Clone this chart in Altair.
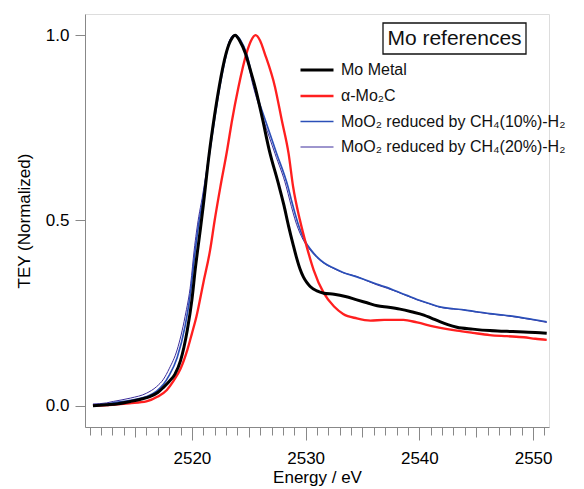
import altair as alt
import pandas as pd

# ---------------- data ----------------
series_names = [
    "Mo Metal",
    "α-Mo₂C",
    "MoO₂ reduced by CH₄(10%)-H₂",
    "MoO₂ reduced by CH₄(20%)-H₂",
]
series_colors = ["#000000", "#ff1f1f", "#2b4fb8", "#3c2d9c"]
series_widths = [3.0, 1.0, 1.1, 1.1]

mo_E = [2511.3, 2512.5, 2513.5, 2514.6, 2515.5, 2516.3, 2517.0, 2517.5, 2518.0, 2518.5,
        2519.0, 2519.3, 2519.6, 2520.0, 2520.3, 2520.7, 2521.0, 2521.5, 2522.0, 2522.4,
        2523.0, 2523.4, 2523.8, 2524.2, 2524.7, 2525.1, 2525.6, 2526.2, 2526.8, 2527.6,
        2528.1, 2528.5, 2528.9, 2529.2, 2529.5, 2529.8, 2530.1, 2530.4, 2531.0, 2531.6,
        2532.5, 2533.5, 2534.5, 2535.4, 2536.3, 2537.3, 2538.3, 2539.3, 2540.4, 2541.1,
        2541.8, 2542.5, 2543.3, 2544.7, 2546.2, 2547.7, 2549.2, 2550.2, 2551.2]
mo_v = [0.000, 0.003, 0.006, 0.012, 0.018, 0.025, 0.036, 0.050, 0.066, 0.085,
        0.122, 0.158, 0.205, 0.286, 0.370, 0.466, 0.540, 0.675, 0.785, 0.861,
        0.950, 0.985, 1.000, 0.985, 0.951, 0.910, 0.855, 0.775, 0.690, 0.600,
        0.540, 0.485, 0.435, 0.400, 0.370, 0.348, 0.333, 0.322, 0.310, 0.304,
        0.301, 0.295, 0.286, 0.278, 0.270, 0.266, 0.261, 0.254, 0.245, 0.236,
        0.227, 0.219, 0.212, 0.207, 0.203, 0.201, 0.199, 0.198, 0.196]

c_E = [2511.3, 2513.0, 2514.5, 2516.0, 2517.0, 2517.8, 2518.4, 2519.0, 2519.6, 2520.0,
       2520.4, 2521.0, 2521.6, 2522.0, 2522.5, 2523.1, 2523.5, 2524.1, 2524.8, 2525.2,
       2525.6, 2526.0, 2526.4, 2527.3, 2527.9, 2528.5, 2528.9, 2529.5, 2530.1, 2530.7,
       2531.6, 2532.5, 2533.3, 2534.5, 2535.7, 2536.9, 2538.6, 2539.8, 2541.3, 2543.3,
       2544.7, 2546.2, 2547.7, 2549.2, 2550.2, 2551.2]
c_v = [0.000, 0.003, 0.007, 0.012, 0.025, 0.043, 0.068, 0.100, 0.151, 0.195,
       0.241, 0.331, 0.420, 0.500, 0.590, 0.690, 0.765, 0.861, 0.951, 0.985,
       1.000, 0.985, 0.951, 0.861, 0.771, 0.681, 0.591, 0.501, 0.429, 0.367,
       0.304, 0.268, 0.248, 0.236, 0.230, 0.232, 0.232, 0.225, 0.214, 0.203,
       0.197, 0.191, 0.188, 0.185, 0.181, 0.178]

m10_E = [2511.3, 2512.5, 2513.1, 2514.6, 2516.0, 2516.9, 2517.5, 2518.0, 2518.7, 2519.4,
         2519.9, 2520.2, 2520.6, 2520.9, 2521.5, 2522.0, 2522.4, 2523.0, 2523.3, 2523.8,
         2524.3, 2524.8, 2525.5, 2526.45, 2527.45, 2528.45, 2528.75, 2529.35, 2529.9, 2530.5,
         2531.0, 2531.6, 2532.5, 2533.3, 2534.5, 2535.4, 2536.3, 2537.2, 2538.0, 2538.9,
         2539.8, 2540.8, 2541.8, 2543.0, 2543.9, 2545.0, 2546.2, 2547.4, 2548.6, 2550.0,
         2551.2]
m10_v = [0.002, 0.005, 0.008, 0.015, 0.025, 0.040, 0.058, 0.082, 0.130, 0.215,
         0.310, 0.395, 0.490, 0.545, 0.670, 0.775, 0.852, 0.945, 0.982, 1.000,
         0.985, 0.951, 0.861, 0.771, 0.681, 0.591, 0.555, 0.490, 0.447, 0.420,
         0.402, 0.386, 0.371, 0.360, 0.348, 0.338, 0.328, 0.319, 0.309, 0.298,
         0.287, 0.277, 0.267, 0.262, 0.259, 0.254, 0.249, 0.245, 0.240, 0.233,
         0.227]

m20_E = [2511.3, 2512.5, 2513.1, 2514.6, 2516.0, 2516.9, 2517.5, 2518.0, 2518.7, 2519.4,
         2519.9, 2520.2, 2520.6, 2520.9, 2521.5, 2522.0, 2522.4, 2523.0, 2523.3, 2523.7,
         2524.2, 2524.7, 2525.4, 2526.3, 2527.3, 2528.3, 2528.6, 2529.2, 2529.8, 2530.4,
         2531.0, 2531.6, 2532.5, 2533.3, 2534.5, 2535.4, 2536.3, 2537.2, 2538.0, 2538.9,
         2539.8, 2540.8, 2541.8, 2543.0, 2543.9, 2545.0, 2546.2, 2547.4, 2548.6, 2550.0,
         2551.2]
m20_v = [0.005, 0.008, 0.012, 0.021, 0.034, 0.052, 0.072, 0.100, 0.151, 0.241,
         0.331, 0.420, 0.510, 0.560, 0.681, 0.785, 0.861, 0.951, 0.985, 1.000,
         0.985, 0.951, 0.861, 0.771, 0.681, 0.591, 0.555, 0.490, 0.447, 0.420,
         0.400, 0.385, 0.370, 0.359, 0.349, 0.337, 0.326, 0.317, 0.308, 0.297,
         0.286, 0.276, 0.266, 0.261, 0.259, 0.253, 0.248, 0.244, 0.239, 0.232,
         0.225]

major_ticks = [2520, 2530, 2540, 2550]
mid_ticks = [2515, 2525, 2535, 2545]
minor_ticks = list(range(2511, 2552))
y_ticks = [0.0, 0.5, 1.0]
x_domain = [2510.6, 2551.4]
y_domain = [-0.057, 1.057]

legend_title = "Mo references"
x_title = "Energy / eV"
y_title = "TEY (Normalized)"

# ---------------- build table ----------------
frames = []
for idx, (E, v) in [(3, (m20_E, m20_v)), (2, (m10_E, m10_v)), (1, (c_E, c_v)), (0, (mo_E, mo_v))]:
    frames.append(pd.DataFrame({"E": E, "v": v, "series": series_names[idx], "ord": idx}))
df = pd.concat(frames, ignore_index=True)

FONT = "Liberation Sans"
W, H = 464, 413

xscale = alt.Scale(domain=x_domain, nice=False, zero=False)

leg = dict(title=None, orient="none", legendX=214, legendY=38,
           symbolType="stroke", symbolSize=1089, labelLimit=0,
           labelFontSize=16, labelOffset=6, rowPadding=-5,
           padding=0, labelFont=FONT, labelColor="#111")

lines = alt.Chart(df).mark_line(interpolate="monotone").encode(
    x=alt.X("E:Q", scale=xscale,
            axis=alt.Axis(values=major_ticks, format="d", tickSize=13, title=x_title,
                          orient="bottom",
                          labelFontSize=17, titleFontSize=17, labelPadding=10, titlePadding=3,
                          titleFontWeight="normal", grid=False, domain=True)),
    y=alt.Y("v:Q", scale=alt.Scale(domain=y_domain, nice=False, zero=False),
            axis=alt.Axis(values=y_ticks, format=".1f", tickSize=10, title=y_title,
                          labelFontSize=17, titleFontSize=17, labelPadding=6, titlePadding=12,
                          titleFontWeight="normal", grid=False)),
    color=alt.Color("series:N", scale=alt.Scale(domain=series_names, range=series_colors),
                    legend=alt.Legend(**leg)),
    strokeWidth=alt.StrokeWidth("series:N",
                                scale=alt.Scale(domain=series_names, range=series_widths),
                                legend=alt.Legend(**leg)),
    detail="series:N",
    order=alt.Order("ord:Q"),
)

minor = alt.Chart(pd.DataFrame({"t": minor_ticks})).mark_point(opacity=0).encode(
    x=alt.X("t:Q", scale=xscale,
            axis=alt.Axis(values=minor_ticks, tickSize=8, labels=False, title=None,
                          orient="bottom", domain=False, grid=False)),
    y=alt.value(0),
)
mid = alt.Chart(pd.DataFrame({"t": mid_ticks})).mark_point(opacity=0).encode(
    x=alt.X("t:Q", scale=xscale,
            axis=alt.Axis(values=mid_ticks, tickSize=10, labels=False, title=None,
                          orient="bottom", domain=False, grid=False)),
    y=alt.value(0),
)

box = alt.Chart(pd.DataFrame({"a": [0]})).mark_rect(
    fill="white", stroke="#111", strokeWidth=1.3
).encode(x=alt.value(298), x2=alt.value(441), y=alt.value(9), y2=alt.value(40))
box_text = alt.Chart(pd.DataFrame({"label": [legend_title]})).mark_text(
    font=FONT, fontSize=21, color="#111", align="center", baseline="middle"
).encode(x=alt.value(369.5), y=alt.value(25), text="label:N")

chart = alt.layer(lines, minor, mid, box, box_text).resolve_scale(
    x="independent"
).properties(
    width=W, height=H,
    autosize=alt.AutoSizeParams(type="none"),
    padding={"left": 77, "top": 6, "right": 27, "bottom": 64},
).configure_view(
    stroke="#111", strokeWidth=1.2
).configure_axis(
    labelFont=FONT, titleFont=FONT, labelColor="#222", titleColor="#222",
    tickColor="#222", domainColor="#222", tickWidth=1.2, domainWidth=1.2,
    titleFontWeight="normal"
).configure(background="white")

chart.save("out.html", embed_options={"renderer": "svg", "actions": False})
